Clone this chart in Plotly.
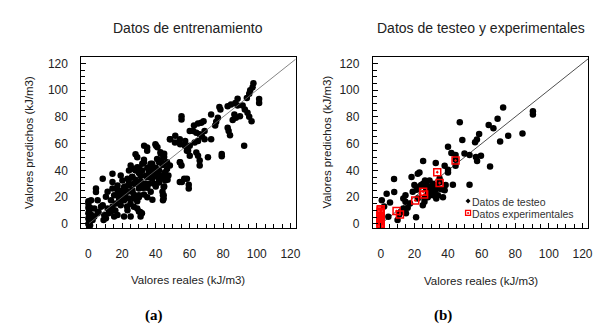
import plotly.graph_objects as go

# ---------- Data: training (left panel) ----------
train_x = [0, 0, 0, 0.5, 0, 0.5, 0, 0.5, 0, 1, 0.5, 1.5, 1.5, 1,
           98, 97.5, 96.1, 95.5, 94.1, 88.6, 87.3, 84.7, 82.7, 78.4, 77.8, 88.6, 91.6,
           101.4, 101.4, 92.9, 94.5, 95.5, 96.9, 86.7, 87.6, 85.7, 90, 82.7, 83.3, 84.1,
           76.9, 75.9, 75.3, 72.9, 92.5, 79.2, 79.2, 69, 67, 68.4, 65.1, 62.7, 55.3, 55.3,
           60.2, 62.2, 64.1, 66.1, 67.5, 69, 72.9, 65.1, 63.1, 60.2, 57.3, 54.3, 51.4, 48.4,
           64.1, 65.1, 66.1, 66.1, 71, 59.2, 60.2, 54.3, 55.3, 54.3, 56.9, 59.6, 59.6, 45.5,
           51.6, 48.6, 54.5, 57.5, 58.5, 54.5, 55.5, 58.5, 39.8, 34.9, 34.9, 28, 29, 33,
           42.8, 44.7, 40.8, 46.7, 48.4, 46.7, 47.5, 45.6, 44.7, 44.7, 44.7, 37.9, 38.8, 36.9,
           40.8, 41.8, 37.9, 34.9, 33.9, 32, 31, 29, 28, 25.1, 24.1, 26.1, 23.2, 27, 24.1,
           20.2, 19.2, 21.2, 17.3, 17.3, 20.2, 23.2, 26.1, 30, 32, 30, 27, 24.1, 21.2, 18.2,
           15.3, 14.3, 14.3, 8.5, 14.3, 11.4, 10.4, 13.4, 16.3, 19.2, 14.3, 11.4, 7.5, 4.5,
           4.5, 5.5, 8.5, 3.5, 1.6, 0.6, 5.5, 3.5, 9.4, 10.4, 13.4, 17.3, 21.2, 15.3, 23.2,
           25.1, 29, 30, 31, 27, 33.1, 40.2, 41, 43, 45, 45, 43, 45, 46, 47, 44, 44.3, 44.3,
           41, 39, 32, 35, 38, 40, 42, 44, 36, 28, 30, 26, 22, 18, 35, 40, 42, 33, 37, 25,
           29, 23, 31, 34, 36, 27, 24, 19, 16, 12, 21, 39, 43, 30, 26, 33, 37, 9, 6, 2.5,
           28, 30, 32, 34, 36, 38, 40, 42, 24, 26, 30, 33, 37, 43, 45, 22, 20, 27, 35, 38,
           30.8, 31.8]
train_y = [17, 15, 12, 10, 8, 6, 4, 2, 0, -1, -2.5, 3, 7, 12,
           105.2, 102.2, 99.8, 97.3, 94.1, 93.6, 90.4, 89.2, 87.9, 85.5, 87.4, 88.4, 88.4,
           93.3, 90.4, 85.5, 83, 80, 76.8, 81.8, 79.3, 77.6, 80.5, 71.9, 69.5, 66.3,
           79.3, 76.4, 73.6, 81.8, 58.4, 52.2, 50.5, 69.5, 75.6, 76.8, 75.1, 73.6, 80.5, 78.1,
           69.5, 69.5, 68.2, 67, 65.3, 63.3, 63.3, 62, 60.8, 58.4, 58.4, 63.3, 60.8, 63.3,
           53.4, 51, 47.3, 43.6, 49.8, 54.7, 51, 46.1, 43.6, 31.3, 33.7, 29.3, 26.4, 38.7,
           65.8, 63.3, 59.6, 62, 54.7, 46, 31.3, 33.8, 59.6, 57.2, 54.7, 52, 49.8, 46,
           53.5, 51, 48.6, 46, 43.6, 41.1, 36.2, 32.5, 27.6, 21.4, 19, 44.9, 41.2, 38.7,
           37.5, 33.8, 33.8, 35, 30, 40, 36.2, 42.4, 39.9, 43.6, 40, 35, 33.8, 30, 28.8,
           32.5, 36.2, 27.6, 28.8, 25.1, 22.7, 24, 25.1, 26.4, 28.8, 21.4, 19, 19, 17.7, 19,
           21.4, 26.4, 37.5, 33.8, 31.3, 24, 20.3, 17.7, 15.3, 14, 12.9, 11.6, 12.9, 26.4,
           23.9, 17.7, 14, 11.6, 17.7, 11.6, 7.9, 5.5, 6.7, 4.2, 9.2, 6.7, 5.5, 5.5, 10.3,
           5.5, 11.6, 9.2, 5.5, 12.9, 58.4, 58.4, 57.3, 52.4, 52.4, 50, 47.5, 45, 35, 33, 24, 21.4, 17.7,
           35.5, 38, 45, 42, 40, 42, 46, 44, 30, 33, 38, 24, 28, 22, 27, 28, 31, 22, 24, 15,
           17, 13, 32, 36, 39, 41, 33, 18, 10, 8, 20, 30, 34, 20, 35, 27, 44, 3, 9, 3,
           30, 30, 27, 30, 35, 35, 37, 40, 30, 35, 42, 48, 45, 36, 28, 20, 25, 22, 20, 18,
           9, 7.9]

# ---------- Data: test (right panel) ----------
test_x = [72.8, 90.5, 90.5, 69.5, 64.2, 67, 47, 48.5, 58.5, 57.2, 56.1, 75.8, 71, 84.3,
          40, 42, 44.5, 49.8, 52.8, 59.6, 56.6, 57.3, 65, 44.5, 44.5, 40, 40, 38, 32.7,
          25.2, 23, 22, 18.3, 7.9, 52.8, 42.9, 3.5, 8, 0.6, 5.5, 2, 4.5, 10, 21,
          13.4, 14.7, 13.4, 14.7, 17.4, 19, 20, 21.3, 25.2, 26.3, 29, 28, 30, 32, 33, 35,
          33, 34, 38, 38.6, 28, 26, 25, 22, 29, 31, 27, 23, 12, 11, 15, 16, 24, 27, 30, 36,
          37, 31, 35, 28, 26, 33]
test_y = [87, 84.2, 81.7, 78.5, 74, 71.5, 76, 62.8, 67.2, 63, 61, 65.8, 61.5, 67.5,
          57.6, 53, 51.5, 52.7, 51.5, 51, 50, 47, 43, 48, 43.5, 40.5, 38.5, 43.5, 45.5,
          47, 38.5, 37.5, 35, 33.5, 29.3, 29.3, 22.6, 23.8, 17.7, 16, 13, 5.4, 3, 5,
          11.5, 16.5, 19, 21.5, 15.2, 24, 29, 25.5, 30, 32.5, 32.5, 27.6, 25.2, 24, 28.8, 31,
          19, 21.5, 25.2, 29, 20, 16.5, 14, 19, 24, 21.5, 26.5, 27.8, 9, 7, 8, 12, 29, 30, 28, 26,
          20, 30, 34, 23, 19, 26]

# ---------- Data: experimental (right panel) ----------
exp_x = [9.4, 11.4, 20.5, 25.2, 25.8, 33.6, 35, 44.5,
         0, 0, 0, 0, 0, 0, 0, 0, 0, 0, 0, 0, 0, 0]
exp_y = [9.6, 7.1, 17.5, 24, 22, 38.7, 30.5, 47.4,
         -2, -1, 0, 1, 2, 3, 4, 5, 6, 7, 8, 9, 10, 11]

diag = [0, 130]
legend_labels = ["Datos de testeo", "Datos experimentales"]

FONT = "Liberation Sans, Arial, sans-serif"
W, H = 599, 329

fig = go.Figure()
fig.add_trace(go.Scatter(x=train_x, y=train_y, mode="markers", xaxis="x", yaxis="y",
                         marker=dict(color="black", size=6.5), showlegend=False))
fig.add_trace(go.Scatter(x=diag, y=diag, mode="lines", xaxis="x", yaxis="y",
                         line=dict(color="#666", width=0.8), showlegend=False))
fig.add_trace(go.Scatter(x=diag, y=diag, mode="lines", xaxis="x2", yaxis="y2",
                         line=dict(color="#222", width=0.8), showlegend=False))
fig.add_trace(go.Scatter(x=test_x, y=test_y, mode="markers", xaxis="x2", yaxis="y2",
                         name=legend_labels[0], showlegend=False,
                         marker=dict(color="black", size=6.5)))
fig.add_trace(go.Scatter(x=exp_x, y=exp_y, mode="markers", xaxis="x2", yaxis="y2",
                         name=legend_labels[1], showlegend=False,
                         marker=dict(color="red", size=7, symbol="square-open-dot",
                                     line=dict(color="red", width=1.5))))

def xaxis(domain, rng, anchor):
    return dict(domain=domain, range=rng, anchor=anchor, showgrid=False, zeroline=False,
                showline=True, linecolor="black", linewidth=1, mirror=True,
                tickmode="linear", tick0=0, dtick=20, ticks="inside", ticklen=5,
                tickcolor="black", ticklabelstandoff=14,
                minor=dict(dtick=5, tick0=0, ticks="inside", ticklen=4, tickcolor="black"),
                tickfont=dict(family=FONT, size=12, color="#222"))

def yaxis(domain, rng, anchor):
    return dict(domain=domain, range=rng, anchor=anchor, showgrid=False, zeroline=False,
                showline=True, linecolor="black", linewidth=1, mirror=True,
                tickmode="linear", tick0=0, dtick=20, ticks="inside", ticklen=5,
                tickcolor="black", ticklabelstandoff=10,
                minor=dict(dtick=5, tick0=0, ticks="inside", ticklen=4, tickcolor="black"),
                tickfont=dict(family=FONT, size=12, color="#222"))

ydom = [(H - 230) / H, (H - 57) / H]
fig.update_layout(
    width=W, height=H, margin=dict(l=0, r=0, t=0, b=0),
    paper_bgcolor="white", plot_bgcolor="white",
    xaxis=xaxis([82 / W, 298 / W], [-4.2, 123], "y"),
    yaxis=yaxis(ydom, [-3.2, 124.5], "x"),
    xaxis2=xaxis([376 / W, 593 / W], [-4.7, 123.3], "y2"),
    yaxis2=yaxis(ydom, [-3.2, 124.5], "x2"),
    showlegend=False,
)

def ann(text, x, y, size=12, angle=0, color="#222", family=FONT, xanchor="center", pad=1):
    fig.add_annotation(text=text, x=x / W, y=1 - y / H, xref="paper", yref="paper",
                       showarrow=False, textangle=angle, xanchor=xanchor, yanchor="middle",
                       borderpad=pad,
                       font=dict(family=family, size=size, color=color))

ann("Datos de entrenamiento", 190, 27, size=14)
ann("Datos de testeo y experimentales", 485, 27, size=14)
ann("Valores reales (kJ/m3)", 190, 282, size=11.5)
ann("Valores reales (kJ/m3)", 485, 283, size=11.5)
ann("Valores predichos (kJ/m3)", 30, 143, size=11.5, angle=-90)
ann("Valores predichos (kJ/m3)", 330, 143, size=11.5, angle=-90)
ann("<b>(a)</b>", 155, 318, size=15, color="black", family="Liberation Serif, Times New Roman, serif")
ann("<b>(b)</b>", 447, 318, size=15, color="black", family="Liberation Serif, Times New Roman, serif")

# manual compact legend (inside right panel)
ann(legend_labels[0], 475, 203.5, size=10.5, color="#333", xanchor="left", pad=0)
ann(legend_labels[1], 475, 215.5, size=10.5, color="#333", xanchor="left", pad=0)
fig.add_shape(type="path", xref="paper", yref="paper",
              path="M {0},{1} L {2},{3} L {0},{4} L {5},{3} Z".format(
                  472 / W, 1 - 200 / H, 474.5 / W, 1 - 202.5 / H, 1 - 205 / H, 469.5 / W),
              fillcolor="black", line=dict(width=0))
fig.add_shape(type="rect", xref="paper", yref="paper",
              x0=469.5 / W, x1=474.5 / W, y0=1 - 217 / H, y1=1 - 212 / H,
              fillcolor="white", line=dict(color="red", width=1.3))
fig.add_shape(type="circle", xref="paper", yref="paper",
              x0=471 / W, x1=473 / W, y0=1 - 215.5 / H, y1=1 - 213.5 / H,
              fillcolor="red", line=dict(width=0))

fig.write_html("out.html")
